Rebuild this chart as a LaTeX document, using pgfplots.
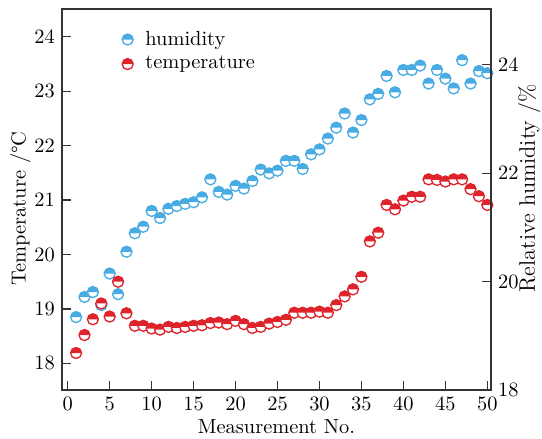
\documentclass[border=0pt]{standalone}
\usepackage{pgfplots}
\pgfplotsset{compat=1.18}
\usepackage{pgfplotstable}
\definecolor{hblue}{RGB}{72,172,226}
\definecolor{tred}{RGB}{222,36,42}
\pgfdeclareplotmark{topdisc}{%
  \begin{pgfscope}
  \pgfsetfillcolor{white}
  \pgfpathcircle{\pgfpointorigin}{\pgfplotmarksize}
  \pgfusepathqfill
  \end{pgfscope}
  \pgfpathmoveto{\pgfqpoint{\pgfplotmarksize}{0pt}}
  \pgfpatharc{0}{180}{\pgfplotmarksize}
  \pgfpathclose
  \pgfusepathqfill
  \pgfpathcircle{\pgfpointorigin}{\pgfplotmarksize}
  \pgfusepathqstroke
}
\pgfplotstableread{
n v
1 18.85
2 19.22
3 19.31
4 19.07
5 19.65
6 19.27
7 20.05
8 20.39
9 20.51
10 20.80
11 20.67
12 20.84
13 20.89
14 20.93
15 20.96
16 21.05
17 21.38
18 21.15
19 21.10
20 21.26
21 21.21
22 21.35
23 21.56
24 21.49
25 21.54
26 21.72
27 21.72
28 21.57
29 21.84
30 21.93
31 22.13
32 22.33
33 22.59
34 22.24
35 22.47
36 22.85
37 22.95
38 23.28
39 22.98
40 23.39
41 23.39
42 23.47
43 23.14
44 23.39
45 23.23
46 23.05
47 23.57
48 23.14
49 23.37
50 23.33
}\humtable
\pgfplotstableread{
n v
1 18.19
2 18.52
3 18.81
4 19.10
5 18.86
6 19.50
7 18.92
8 18.69
9 18.69
10 18.64
11 18.62
12 18.67
13 18.65
14 18.67
15 18.69
16 18.70
17 18.74
18 18.75
19 18.72
20 18.78
21 18.72
22 18.65
23 18.67
24 18.73
25 18.76
26 18.80
27 18.93
28 18.93
29 18.93
30 18.95
31 18.93
32 19.07
33 19.23
34 19.36
35 19.59
36 20.24
37 20.40
38 20.91
39 20.83
40 20.99
41 21.06
42 21.06
43 21.38
44 21.37
45 21.34
46 21.38
47 21.38
48 21.20
49 21.07
50 20.91
}\temptable
\begin{document}
\begin{tikzpicture}
\begin{axis}[
  width=210.3pt, height=186.8pt, scale only axis,
  xmin=-0.68, xmax=50.44, ymin=17.51, ymax=24.51,
  xtick={0,5,...,50}, ytick={18,19,...,24},
  xtick pos=bottom, ytick pos=left,
  tick align=inside,
  axis line style={black!80, line width=0.6pt},
  tick style={black!80, line width=0.6pt},
  xlabel={Measurement No.},
  ylabel={Temperature /\textdegree C},
  xlabel style={yshift=2.5pt},
  ylabel style={at={(rel axis cs:-0.137,0.477)}, anchor=north},
  legend style={at={(rel axis cs:0.125,0.965)}, anchor=north west, draw=none, fill=none, font=\normalsize, row sep=0pt, column sep=4pt},
  legend cell align=left,
]
\addplot[only marks, mark=topdisc, mark size=2.7pt, color=hblue, mark options={draw=hblue, fill=hblue, line width=0.65pt}] table[x=n,y=v] {\humtable};
\addlegendentry{humidity}
\addplot[only marks, mark=topdisc, mark size=2.7pt, color=tred, mark options={draw=tred, fill=tred, line width=0.65pt}] table[x=n,y=v] {\temptable};
\addlegendentry{temperature}
\end{axis}
\begin{axis}[
  width=210.3pt, height=186.8pt, scale only axis,
  xmin=-0.68, xmax=50.44, ymin=18, ymax=25.03,
  hide x axis,
  axis y line*=right,
  ytick={18,20,22,24},
  tick align=inside,
  axis line style={black!80, line width=0.6pt},
  tick style={black!80, line width=0.6pt},
  ylabel={Relative humidity /\%},
  ylabel style={at={(rel axis cs:1.046,0.53)}, anchor=north, font=\fontsize{11}{13}\selectfont},
]
\end{axis}
\pgfresetboundingbox
\useasboundingbox (-30.4pt,-24pt) rectangle (235.3pt,191.2pt);
\end{tikzpicture}
\end{document}
